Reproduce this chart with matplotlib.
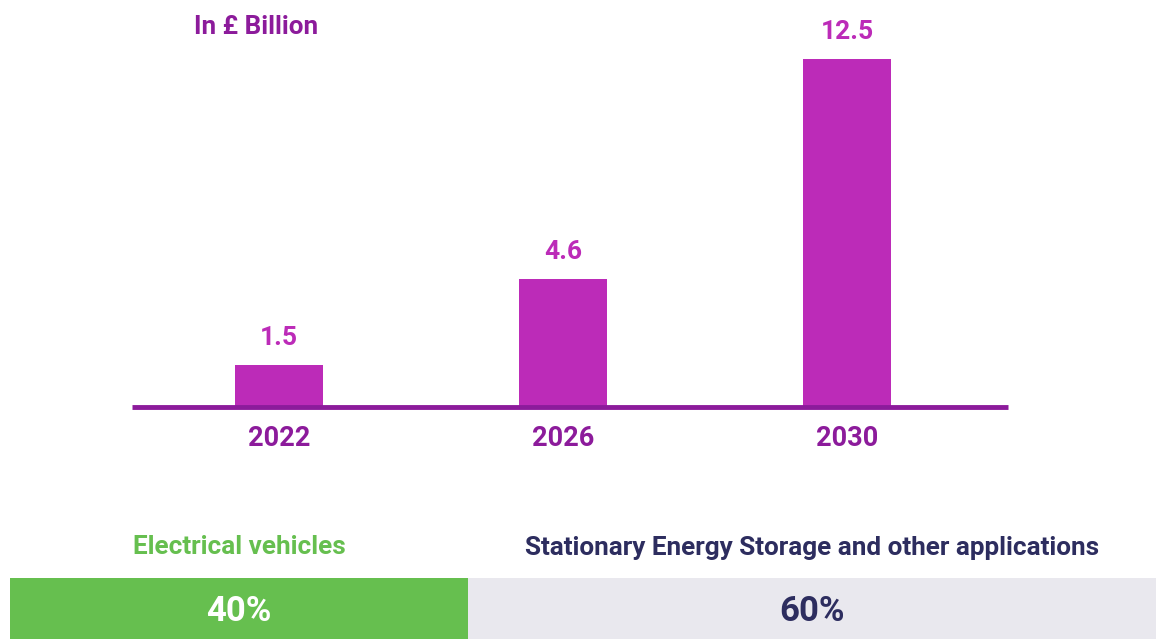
import matplotlib
matplotlib.use("Agg")
import matplotlib.pyplot as plt

# data
years = ["2022", "2026", "2030"]
values = [1.5, 4.6, 12.5]
segments = ["Electrical vehicles", "Stationary Energy Storage and other applications"]
shares = [40, 60]

BAR = "#bc2bb8"
DARK = "#8c1b9b"
GREEN = "#66bf4f"
GREY = "#e9e8ee"
NAVY = "#2d2d5f"

plt.rcParams.update({"font.family": ["Roboto", "DejaVu Sans"], "font.weight": "bold"})

W, H = 1156, 639
fig = plt.figure(figsize=(W / 100, H / 100), dpi=100)
fig.patch.set_facecolor("white")

# ---- bar chart
ax = fig.add_axes([132 / W, 1 - 407 / H, 876 / W, 387 / H])
x = range(len(years))
ax.bar(x, values, width=0.313, color=BAR, zorder=2)
for xi, v in zip(x, values):
    ax.text(xi, v + 0.55, f"{v:g}", ha="center", va="bottom", color=BAR,
            fontsize=19, fontweight="bold")
ax.axhline(0, color=DARK, lw=3.5, zorder=3, clip_on=False, solid_capstyle="butt")
ax.set_xlim(-0.5176, 2.567)
ax.set_ylim(0, 13.9)
ax.set_xticks(list(x))
ax.set_xticklabels(years, color=DARK, fontsize=19.5, fontweight="bold")
ax.tick_params(axis="x", length=0, pad=13)
ax.set_yticks([])
for s in ax.spines.values():
    s.set_visible(False)
ax.patch.set_alpha(0)
fig.text(256 / W, 1 - 27 / H, "In £ Billion", ha="center", va="center",
         color=DARK, fontsize=18.7, fontweight="bold")

# ---- share strip
bx = fig.add_axes([10 / W, 0, 1146 / W, 61 / H])
colors = [GREEN, GREY]
label_colors = [GREEN, NAVY]
value_colors = ["white", NAVY]
left = 0
for seg, sh, c, lc, vc in zip(segments, shares, colors, label_colors, value_colors):
    bx.barh(0, sh, left=left, height=1, color=c)
    mid = left + sh / 2
    bx.text(mid, -0.05, f"{sh}%", ha="center", va="center", color=vc,
            fontsize=25, fontweight="bold")
    bx.text(mid, 1.0, seg, ha="center", va="center", color=lc,
            fontsize=18.8, fontweight="bold", clip_on=False)
    left += sh
bx.set_xlim(0, sum(shares))
bx.set_ylim(-0.5, 0.5)
bx.axis("off")

fig.savefig("out.png", dpi=100, facecolor="white")
